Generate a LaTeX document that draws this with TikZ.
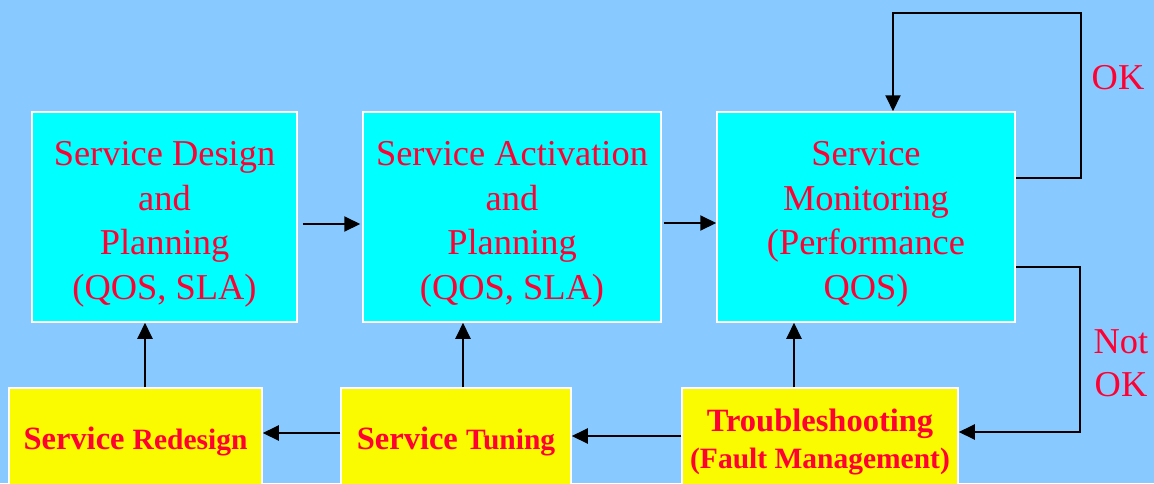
\documentclass[tikz,border=0pt]{standalone}
\usepackage{fontspec}
\setmainfont{Liberation Serif}
\usetikzlibrary{arrows.meta,calc}
\definecolor{bgblue}{RGB}{136,202,255}
\definecolor{boxcyan}{RGB}{0,255,255}
\definecolor{boxyellow}{RGB}{250,250,0}
\definecolor{txtred}{RGB}{255,0,51}
\tikzset{
  cyanbox/.style={draw=white, line width=1.5pt, fill=boxcyan, text=txtred, align=center,
    minimum height=210pt, inner sep=0pt, font=\fontsize{36.4}{44.5}\selectfont},
  yellowbox/.style={draw=white, line width=1.5pt, fill=boxyellow, text=txtred, align=center,
    minimum height=106pt, inner sep=0pt, font=\fontsize{32.5}{37}\selectfont\bfseries},
  arr/.style={line width=2pt, -{Triangle[length=16pt,width=15pt]}},
  lbl/.style={text=txtred, align=center, font=\fontsize{36.4}{43}\selectfont}
}
\newcommand{\smw}[1]{{\fontsize{29.5}{37}\selectfont #1}}
\newcommand{\tall}{\rule{0pt}{39pt}}
\begin{document}
\begin{tikzpicture}[x=1pt,y=-1pt]
\clip (0,0) rectangle (1154,483);
\fill[bgblue] (0,0) rectangle (1154,483);
% top boxes
\node[cyanbox, minimum width=265pt] (d1) at (164.5,217) {\tall Service Design\\and\\Planning\\(QOS, SLA)};
\node[cyanbox, minimum width=298pt] (d2) at (512,217) {\tall Service Activation\\and\\Planning\\(QOS, SLA)};
\node[cyanbox, minimum width=298pt] (d3) at (866,217) {\tall Service\\Monitoring\\(Performance\\QOS)};
% bottom boxes
\node[yellowbox, minimum width=253pt] (rd) at (135.5,441) {Service \smw{Redesign}};
\node[yellowbox, minimum width=230pt] (tu) at (456,441) {Service \smw{Tuning}};
\node[yellowbox, minimum width=276pt, minimum height=108pt] (ts) at (820,442) {Troubleshooting\\\smw{(Fault Management)}};
% horizontal arrows top
\draw[arr, shorten >=2pt] ([xshift=5pt,yshift=-7pt]d1.east) -- ([yshift=-7pt]d2.west);
\draw[arr] ([xshift=2pt,yshift=-6pt]d2.east) -- ([yshift=-6pt]d3.west);
% upward arrows
\draw[arr] ([xshift=9.5pt]rd.north) -- ([xshift=9.5pt]rd.north |- d1.south);
\draw[arr] ([xshift=7pt]tu.north) -- ([xshift=7pt]tu.north |- d2.south);
\draw[arr] ([xshift=-26pt]ts.north) -- ([xshift=-26pt]ts.north |- d3.south);
% bottom leftward arrows
\draw[arr] ([yshift=8pt]tu.west) -- ([yshift=8pt]tu.west -| rd.east);
\draw[arr] ([yshift=6pt]ts.west) -- ([yshift=6pt]ts.west -| tu.east);
% feedback loops
\coordinate (okc) at (1081,13);
\coordinate (nok) at (1080,432);
\draw[arr] ([yshift=39pt]d3.east) -| (okc) -| ([xshift=27pt]d3.north);
\draw[arr] ([yshift=-50pt]d3.east) -| (nok) -- ([yshift=10pt]ts.east);
\node[lbl] (okl) at (1118,78) {OK};
\node[lbl] (nokl) at (1121,363) {Not\\OK};
\end{tikzpicture}
\end{document}
